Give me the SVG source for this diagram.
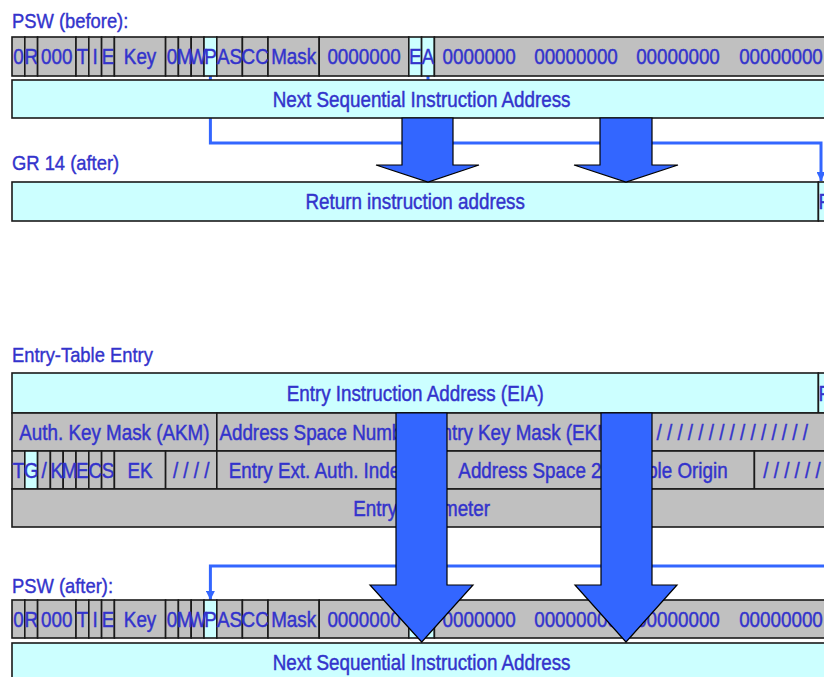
<svg xmlns="http://www.w3.org/2000/svg" width="824" height="677" viewBox="0 0 824 677">
  <defs>
    <style>
      .g { fill: #C0C0C0; stroke: #1a1a1a; stroke-width: 1.6; }
      .c { fill: #CCFFFF; stroke: #1a1a1a; stroke-width: 1.6; }
      .t { font-family: "Liberation Sans", Arial, sans-serif; font-size: 21.5px; fill: #3333CC; stroke: #3333CC; stroke-width: 0.45;
           text-anchor: middle; transform: scaleX(0.875); transform-box: fill-box; transform-origin: center; }
      .lbl { font-family: "Liberation Sans", Arial, sans-serif; font-size: 21px; fill: #3333CC; stroke: #3333CC; stroke-width: 0.4;
             text-anchor: start; transform: scaleX(0.875); transform-box: fill-box; transform-origin: left; }
      .link { fill: none; stroke: #3366FF; stroke-width: 3; }
      .big { fill: #3366FF; stroke: #000; stroke-width: 1.2; stroke-linejoin: miter; }
    </style>
    <marker id="tip" viewBox="0 0 10 10" refX="10" refY="5" markerWidth="3" markerHeight="3" orient="auto" markerUnits="strokeWidth">
      <path d="M0,0 L10,5 L0,10 z" fill="#3366FF"/>
    </marker>
  </defs>
  <rect width="824" height="677" fill="#fff"/>

  <!-- labels -->
  <text class="lbl" x="12" y="28">PSW (before):</text>
  <text class="lbl" x="12" y="170">GR 14 (after)</text>
  <text class="lbl" x="12" y="362">Entry-Table Entry</text>
  <text class="lbl" x="12" y="593">PSW (after):</text>

  <!-- thin flow lines, drawn beneath the registers -->
  <g id="links">
    <path class="link" d="M428,76 V143"/>
    <path class="link" d="M210.4,76 V143 H821 V181" marker-end="url(#tip)"/>
    <path class="link" d="M831,566 H210.4 V600" marker-end="url(#tip)"/>
  </g>

  <!-- PSW before -->
  <g id="psw-before">
    <rect class="g" x="12" y="37" width="12.8" height="39"/>
    <rect class="g" x="24.8" y="37" width="12.8" height="39"/>
    <rect class="g" x="37.6" y="37" width="38.4" height="39"/>
    <rect class="g" x="76" y="37" width="12.8" height="39"/>
    <rect class="g" x="88.8" y="37" width="12.8" height="39"/>
    <rect class="g" x="101.6" y="37" width="12.8" height="39"/>
    <rect class="g" x="114.4" y="37" width="51.2" height="39"/>
    <rect class="g" x="165.6" y="37" width="12.8" height="39"/>
    <rect class="g" x="178.4" y="37" width="12.8" height="39"/>
    <rect class="g" x="191.2" y="37" width="12.8" height="39"/>
    <rect class="c" x="204" y="37" width="12.8" height="39"/>
    <rect class="g" x="216.8" y="37" width="25.6" height="39"/>
    <rect class="g" x="242.4" y="37" width="25.6" height="39"/>
    <rect class="g" x="268" y="37" width="51.2" height="39"/>
    <rect class="g" x="319.2" y="37" width="89.6" height="39"/>
    <rect class="c" x="408.8" y="37" width="12.8" height="39"/>
    <rect class="c" x="421.6" y="37" width="12.8" height="39"/>
    <rect class="g" x="434.4" y="37" width="396.8" height="39"/>
    <text class="t" x="18.4" y="64">0</text>
    <text class="t" x="31.2" y="64">R</text>
    <text class="t" x="56.8" y="64">000</text>
    <text class="t" x="82.4" y="64">T</text>
    <text class="t" x="95.2" y="64">I</text>
    <text class="t" x="108" y="64">E</text>
    <text class="t" x="140" y="64">Key</text>
    <text class="t" x="172" y="64">0</text>
    <text class="t" x="184.8" y="64">M</text>
    <text class="t" x="197.6" y="64">W</text>
    <text class="t" x="210.4" y="64">P</text>
    <text class="t" x="229.6" y="64">AS</text>
    <text class="t" x="255.2" y="64">CC</text>
    <text class="t" x="293.6" y="64">Mask</text>
    <text class="t" x="364" y="64">0000000</text>
    <text class="t" x="415.2" y="64">E</text>
    <text class="t" x="428" y="64">A</text>
    <text class="t" x="479.2" y="64">0000000</text>
    <text class="t" x="576" y="64">00000000</text>
    <text class="t" x="678" y="64">00000000</text>
    <text class="t" x="781" y="64">00000000</text>
  </g>

  <g id="nsia-before">
    <rect class="c" x="12" y="80" width="819.2" height="38"/>
    <text class="t" x="421.6" y="106.7">Next Sequential Instruction Address</text>
  </g>

  <g id="gr14-after">
    <rect class="c" x="12" y="182" width="806.4" height="39"/>
    <rect class="c" x="818.4" y="182" width="12.8" height="39"/>
    <text class="t" x="415.2" y="209">Return instruction address</text>
    <text class="t" x="824.8" y="209">P</text>
  </g>

  <!-- entry-table entry -->
  <g id="ete">
    <rect class="c" x="12" y="373" width="806.4" height="40"/>
    <rect class="c" x="818.4" y="373" width="12.8" height="40"/>
    <text class="t" x="415.2" y="401">Entry Instruction Address (EIA)</text>
    <text class="t" x="824.8" y="401">P</text>

    <rect class="g" x="12" y="413" width="204.8" height="38"/>
    <rect class="g" x="216.8" y="413" width="204.8" height="38"/>
    <rect class="g" x="421.6" y="413" width="204.8" height="38"/>
    <rect class="g" x="626.4" y="413" width="204.8" height="38"/>
    <text class="t" x="114.4" y="440">Auth. Key Mask (AKM)</text>
    <text class="t" x="319.2" y="440">Address Space Number</text>
    <text class="t" x="524" y="440">Entry Key Mask (EKM)</text>
    <text class="t" x="727" y="440">/ / / / / / / / / / / / / / / /</text>

    <rect class="g" x="12" y="451" width="12.8" height="38"/>
    <rect class="c" x="24.8" y="451" width="12.8" height="38"/>
    <rect class="g" x="37.6" y="451" width="12.8" height="38"/>
    <rect class="g" x="50.4" y="451" width="12.8" height="38"/>
    <rect class="g" x="63.2" y="451" width="12.8" height="38"/>
    <rect class="g" x="76" y="451" width="12.8" height="38"/>
    <rect class="g" x="88.8" y="451" width="12.8" height="38"/>
    <rect class="g" x="101.6" y="451" width="12.8" height="38"/>
    <rect class="g" x="114.4" y="451" width="51.2" height="38"/>
    <rect class="g" x="165.6" y="451" width="51.2" height="38"/>
    <rect class="g" x="216.8" y="451" width="204.8" height="38"/>
    <rect class="g" x="421.6" y="451" width="332.8" height="38"/>
    <rect class="g" x="754.4" y="451" width="76.8" height="38"/>
    <text class="t" x="18.4" y="478">T</text>
    <text class="t" x="31.2" y="478">G</text>
    <text class="t" x="44" y="478">/</text>
    <text class="t" x="56.8" y="478">K</text>
    <text class="t" x="69.6" y="478">M</text>
    <text class="t" x="82.4" y="478">E</text>
    <text class="t" x="95.2" y="478">C</text>
    <text class="t" x="108" y="478">S</text>
    <text class="t" x="140" y="478">EK</text>
    <text class="t" x="191.2" y="478">/ / / /</text>
    <text class="t" x="319.2" y="478">Entry Ext. Auth. Index</text>
    <text class="t" x="593" y="478">Address Space 2nd Table Origin</text>
    <text class="t" x="792" y="478">/ / / / / /</text>

    <rect class="g" x="12" y="489" width="819.2" height="38"/>
    <text class="t" x="421.6" y="516">Entry Parameter</text>
  </g>

  <!-- PSW after -->
  <g id="psw-after">
    <rect class="g" x="12" y="600" width="12.8" height="38"/>
    <rect class="g" x="24.8" y="600" width="12.8" height="38"/>
    <rect class="g" x="37.6" y="600" width="38.4" height="38"/>
    <rect class="g" x="76" y="600" width="12.8" height="38"/>
    <rect class="g" x="88.8" y="600" width="12.8" height="38"/>
    <rect class="g" x="101.6" y="600" width="12.8" height="38"/>
    <rect class="g" x="114.4" y="600" width="51.2" height="38"/>
    <rect class="g" x="165.6" y="600" width="12.8" height="38"/>
    <rect class="g" x="178.4" y="600" width="12.8" height="38"/>
    <rect class="g" x="191.2" y="600" width="12.8" height="38"/>
    <rect class="c" x="204" y="600" width="12.8" height="38"/>
    <rect class="g" x="216.8" y="600" width="25.6" height="38"/>
    <rect class="g" x="242.4" y="600" width="25.6" height="38"/>
    <rect class="g" x="268" y="600" width="51.2" height="38"/>
    <rect class="g" x="319.2" y="600" width="89.6" height="38"/>
    <rect class="c" x="408.8" y="600" width="12.8" height="38"/>
    <rect class="c" x="421.6" y="600" width="12.8" height="38"/>
    <rect class="g" x="434.4" y="600" width="396.8" height="38"/>
    <text class="t" x="18.4" y="627">0</text>
    <text class="t" x="31.2" y="627">R</text>
    <text class="t" x="56.8" y="627">000</text>
    <text class="t" x="82.4" y="627">T</text>
    <text class="t" x="95.2" y="627">I</text>
    <text class="t" x="108" y="627">E</text>
    <text class="t" x="140" y="627">Key</text>
    <text class="t" x="172" y="627">0</text>
    <text class="t" x="184.8" y="627">M</text>
    <text class="t" x="197.6" y="627">W</text>
    <text class="t" x="210.4" y="627">P</text>
    <text class="t" x="229.6" y="627">AS</text>
    <text class="t" x="255.2" y="627">CC</text>
    <text class="t" x="293.6" y="627">Mask</text>
    <text class="t" x="364" y="627">0000000</text>
    <text class="t" x="415.2" y="627">E</text>
    <text class="t" x="428" y="627">A</text>
    <text class="t" x="479.2" y="627">0000000</text>
    <text class="t" x="576" y="627">00000000</text>
    <text class="t" x="678" y="627">00000000</text>
    <text class="t" x="781" y="627">00000000</text>
  </g>

  <g id="nsia-after">
    <rect class="c" x="12" y="643" width="819.2" height="38"/>
    <text class="t" x="421.6" y="670">Next Sequential Instruction Address</text>
  </g>

  <!-- block arrows, drawn over everything -->
  <g id="flow-arrows">
    <polygon class="big" points="402,118 453,118 453,165 479,165 428,182 376,165 402,165"/>
    <polygon class="big" points="600,118 652,118 652,165 678,165 626,182 574,165 600,165"/>
    <polygon class="big" points="396,413 447,413 447,585 473,585 421.7,642 370,585 396,585"/>
    <polygon class="big" points="601,413 652,413 652,585 677,585 626,642 575,585 601,585"/>
  </g>
</svg>
